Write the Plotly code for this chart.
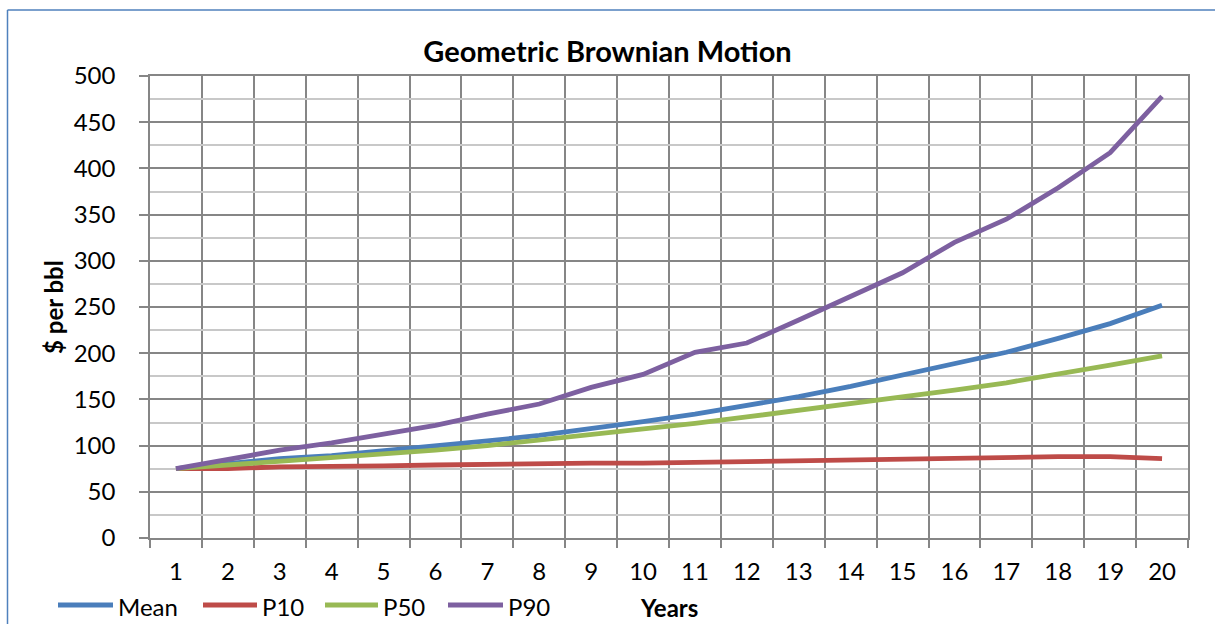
import plotly.graph_objects as go

years = list(range(1, 21))
mean = [75, 81, 86, 89, 94, 99, 105, 111, 118, 126, 134, 143, 153, 164, 176, 189, 201, 216, 232, 252]
p10 = [75, 75, 77, 77, 78, 79, 80, 81, 81, 81, 82, 82, 83, 84, 85, 87, 88, 88, 88, 86]
p50 = [75, 79, 83, 86, 91, 95, 100, 106, 112, 117, 124, 131, 138, 145, 152, 160, 168, 177, 187, 197]
p90 = [75, 85, 95, 103, 112, 122, 134, 145, 163, 177, 201, 211, 236, 261, 287, 320, 345, 379, 417, 478]

series = [("Mean", mean, "#4A7EBB"), ("P10", p10, "#BE4B48"),
          ("P50", p50, "#98B954"), ("P90", p90, "#7D60A0")]

FONT = "Lato"
W, H = 1215, 624
L, R, T, B = 150, 1188, 76, 538

def px(x):
    return (x - L) / (R - L)

def py(y):
    return (B - y) / (B - T)

fig = go.Figure()
for name, vals, col in series:
    fig.add_trace(go.Scatter(x=years, y=vals, mode="lines", name=name,
                             line=dict(color=col, width=4.8), showlegend=False))

fig.update_layout(
    width=W, height=H,
    margin=dict(l=L, r=W - R, t=T, b=H - B),
    paper_bgcolor="white", plot_bgcolor="white",
    font=dict(family=FONT, size=24, color="black"),
    title=dict(text="<b>Geometric Brownian Motion</b>", x=0.5, xanchor="center",
               y=1 - 52 / H, yanchor="middle", font=dict(size=29, family=FONT)),
    showlegend=False,
)
fig.update_xaxes(
    range=[0.5, 20.5], tickmode="array", tickvals=years, ticktext=[str(y) for y in years],
    showgrid=False, ticks="", showline=True, linecolor="#868686", linewidth=1.5, mirror=True,
    tickfont=dict(size=24, family=FONT), ticklabelstandoff=11,
    minor=dict(tickmode="linear", tick0=0.5, dtick=1, showgrid=True, gridcolor="#868686",
               gridwidth=1.5, ticks="outside", ticklen=8, tickcolor="#868686", tickwidth=1.5),
    zeroline=False,
)
fig.update_yaxes(
    range=[0, 500], dtick=50, showgrid=True, gridcolor="#868686", gridwidth=1.5,
    ticks="outside", ticklen=9, tickcolor="#868686", tickwidth=1.5,
    showline=True, linecolor="#868686", linewidth=1.5, mirror=True,
    tickfont=dict(size=24, family=FONT), zeroline=False, ticklabelstandoff=19,
    minor=dict(dtick=25, showgrid=True, gridcolor="#C8C8C8", gridwidth=1.5),
)

# axis titles
fig.add_annotation(text="<b>$ per bbl</b>", xref="paper", yref="paper", x=px(53), y=py(307),
                   xanchor="center", yanchor="middle", showarrow=False, textangle=-90,
                   font=dict(size=24, family=FONT, color="black"))
fig.add_annotation(text="<b>Years</b>", xref="paper", yref="paper", x=px(669), y=py(607),
                   xanchor="center", yanchor="middle", showarrow=False,
                   font=dict(size=24, family=FONT, color="black"))

# manual legend
leg_lines = [(58, 113), (203, 257), (325, 378), (448, 503)]
for (name, vals, col), (a, b) in zip(series, leg_lines):
    fig.add_shape(type="line", xref="paper", yref="paper", x0=px(a), x1=px(b),
                  y0=py(605), y1=py(605), line=dict(color=col, width=4.8))
    fig.add_annotation(text=name, xref="paper", yref="paper", x=px(b + 3), y=py(606),
                       xanchor="left", yanchor="middle", showarrow=False,
                       font=dict(size=24, family=FONT, color="black"))

# outer chart frame (left and top edges only visible)
fig.add_shape(type="line", xref="paper", yref="paper", x0=px(7.5), x1=px(7.5),
              y0=py(640), y1=py(10), line=dict(color="#4F81BD", width=1.5), layer="above")
fig.add_shape(type="line", xref="paper", yref="paper", x0=px(7.5), x1=px(1230),
              y0=py(10), y1=py(10), line=dict(color="#4F81BD", width=1.5), layer="above")

fig.write_html("out.html", config={"displayModeBar": False},
               post_script="document.body.style.margin='0';document.body.style.overflow='hidden';")
